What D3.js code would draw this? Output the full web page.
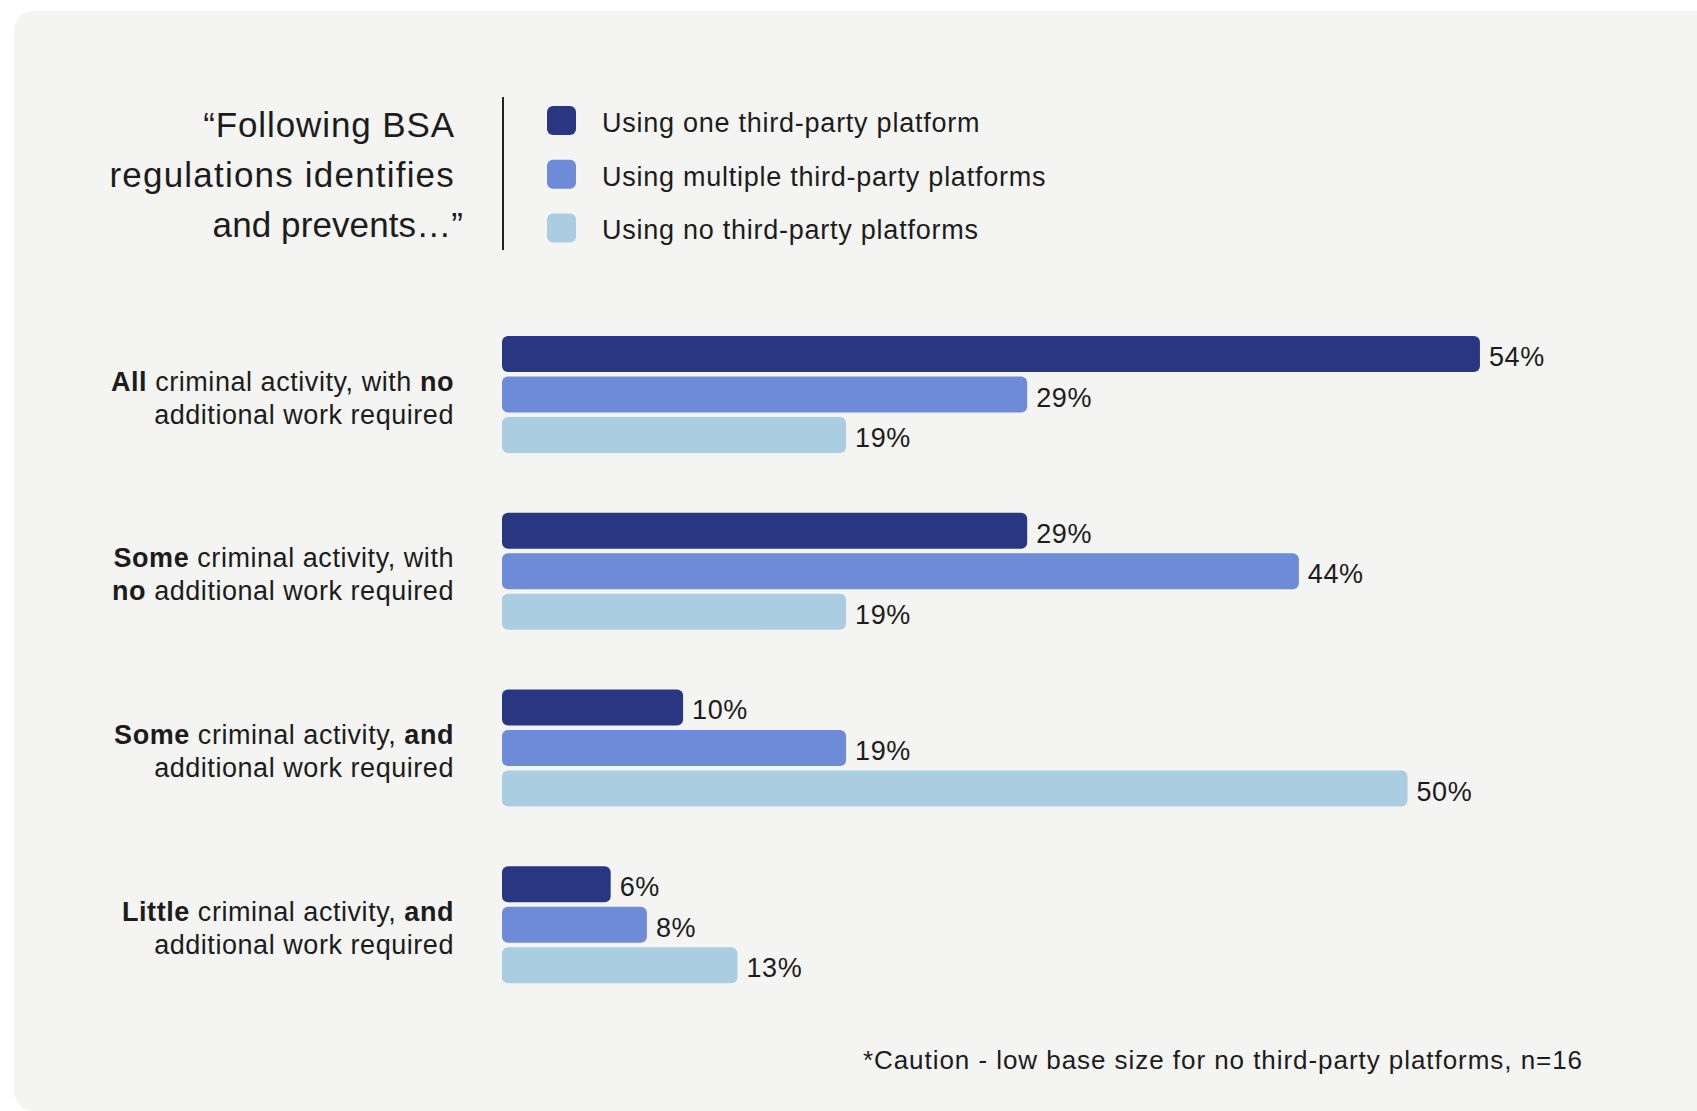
<!DOCTYPE html>
<html>
<head>
<meta charset="utf-8">
<script src="https://cdn.jsdelivr.net/npm/d3@7"></script>
<style>
  html, body { margin: 0; padding: 0; background: #ffffff; }
  svg { display: block; font-family: "Liberation Sans", Arial, sans-serif; }
</style>
</head>
<body>
<svg id="chart" width="1697" height="1111"></svg>
<script>
// categories, with **bold** parts, one entry per line
var categories = [
  ["**All** criminal activity, with **no**", "additional work required"],
  ["**Some** criminal activity, with", "**no** additional work required"],
  ["**Some** criminal activity, **and**", "additional work required"],
  ["**Little** criminal activity, **and**", "additional work required"]
];

var series = [
  "Using one third-party platform",
  "Using multiple third-party platforms",
  "Using no third-party platforms"
];

// values in %, one array per series
var oneValues      = [54, 29, 10, 6];
var multipleValues = [29, 44, 19, 8];
var noneValues     = [19, 19, 50, 13];

var colors = ["#293681", "#6e8bd8", "#aacde2"];

var titleLines = ["\u201cFollowing BSA", "regulations identifies", "and prevents\u2026\u201d"];
var footnote = "*Caution - low base size for no third-party platforms, n=16";

var svg = d3.select("#chart");
var ink = "#1c1c1c";

// card background
svg.append("rect")
  .attr("x", 14).attr("y", 11)
  .attr("width", 1740).attr("height", 1100)
  .attr("rx", 20)
  .attr("fill", "#f4f4f2");

// title
var title = svg.append("g");
title.selectAll("text")
  .data(titleLines)
  .join("text")
  .attr("x", function(d, i) { return i == 2 ? 463 : 455; })
  .attr("y", function(d, i) { return 137 + i * 50; })
  .attr("text-anchor", "end")
  .attr("font-size", 35)
  .attr("letter-spacing", function(d, i) { return [0.9, 1.2, 0.1][i]; })
  .attr("fill", ink)
  .text(function(d) { return d; });

// divider
svg.append("line")
  .attr("x1", 503).attr("x2", 503)
  .attr("y1", 97).attr("y2", 250)
  .attr("stroke", "#222").attr("stroke-width", 2);

// legend
var legend = svg.append("g").selectAll("g")
  .data(series)
  .join("g")
  .attr("transform", function(d, i) { return "translate(547," + (106 + i * 53.7) + ")"; });

legend.append("rect")
  .attr("width", 29).attr("height", 29)
  .attr("rx", 6)
  .attr("fill", function(d, i) { return colors[i]; });

legend.append("text")
  .attr("x", 55).attr("y", 26)
  .attr("font-size", 27)
  .attr("letter-spacing", 0.75)
  .attr("fill", ink)
  .text(function(d) { return d; });

// scales
var x = d3.scaleLinear().domain([0, 100]).range([502, 502 + 1811]);

var y0 = d3.scaleBand()
  .domain(d3.range(categories.length))
  .range([336, 983.3])
  .paddingInner(0.3377);

var y1 = d3.scaleBand()
  .domain(d3.range(series.length))
  .range([0, y0.bandwidth()])
  .paddingInner(0.111);

var table = categories.map(function(c, i) {
  return [oneValues[i], multipleValues[i], noneValues[i]];
});

var groups = svg.append("g").selectAll("g")
  .data(table)
  .join("g")
  .attr("transform", function(d, i) { return "translate(0," + y0(i) + ")"; });

groups.selectAll("rect")
  .data(function(d) { return d; })
  .join("rect")
  .attr("x", x(0))
  .attr("y", function(d, j) { return y1(j); })
  .attr("width", function(d) { return x(d) - x(0); })
  .attr("height", y1.bandwidth())
  .attr("rx", 6)
  .attr("fill", function(d, j) { return colors[j]; });

groups.selectAll("text.val")
  .data(function(d) { return d; })
  .join("text")
  .attr("class", "val")
  .attr("x", function(d) { return x(d) + 9; })
  .attr("y", function(d, j) { return y1(j) + y1.bandwidth() / 2 + 12; })
  .attr("font-size", 27)
  .attr("letter-spacing", 0.6)
  .attr("fill", ink)
  .text(function(d) { return d + "%"; });

// category labels with bold parts
var mid = y0.bandwidth() / 2;
groups.each(function(d, i) {
  var g = d3.select(this);
  categories[i].forEach(function(line, k) {
    var t = g.append("text")
      .attr("x", 454)
      .attr("y", mid - 4 + k * 33)
      .attr("text-anchor", "end")
      .attr("font-size", 27)
      .attr("letter-spacing", 0.55)
      .attr("fill", ink);
    line.split("**").forEach(function(part, p) {
      if (part === "") return;
      t.append("tspan")
        .attr("font-weight", p % 2 ? "bold" : "normal")
        .text(part);
    });
  });
});

// footnote
svg.append("text")
  .attr("x", 1583).attr("y", 1069)
  .attr("text-anchor", "end")
  .attr("font-size", 26)
  .attr("letter-spacing", 0.95)
  .attr("fill", ink)
  .text(footnote);
</script>
</body>
</html>
